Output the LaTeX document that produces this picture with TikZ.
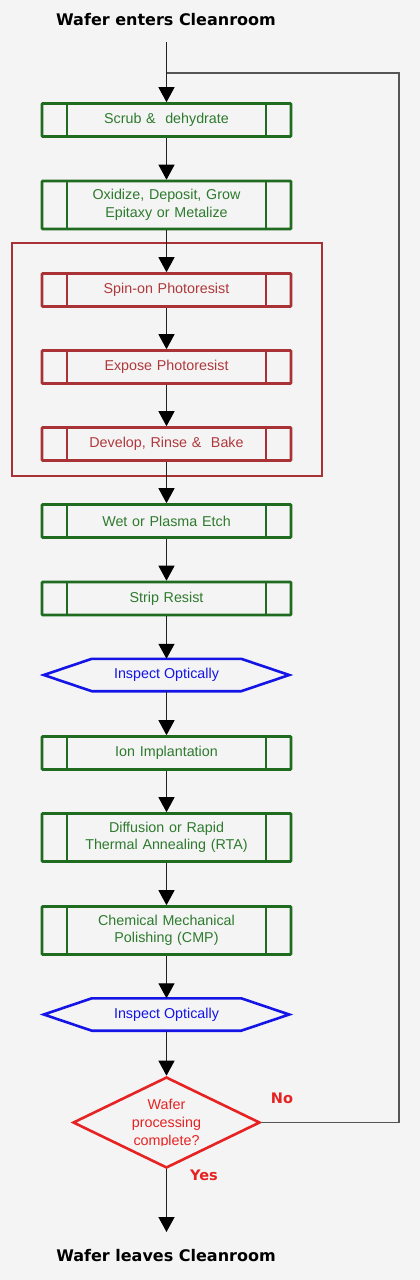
\documentclass[tikz,border=0pt]{standalone}
\usepackage{fontspec}
\setmainfont{Liberation Sans}
\newfontfamily\djv{DejaVu Sans}
\usetikzlibrary{arrows.meta,shapes.geometric}
\definecolor{bg}{HTML}{F4F4F4}
\definecolor{grn}{HTML}{1F6B1F}
\definecolor{grntxt}{HTML}{2E7A2E}
\definecolor{dred}{HTML}{A83236}
\definecolor{dredtxt}{HTML}{B0383C}
\definecolor{blu}{HTML}{1414E6}
\definecolor{bred}{HTML}{E62222}
\definecolor{conn}{HTML}{222222}
\definecolor{loopc}{HTML}{555555}
\tikzset{
  proc/.style={draw=#1, line width=2.6pt, rounded corners=0.8pt,
    minimum width=249pt, minimum height=33pt, inner sep=0pt, align=center,
    text width=195pt, font=\fontsize{14.3}{17.5}\selectfont,
    path picture={\draw[#1,line width=2.6pt]
      ([xshift=25pt]path picture bounding box.north west) -- ([xshift=25pt]path picture bounding box.south west)
      ([xshift=-25pt]path picture bounding box.north east) -- ([xshift=-25pt]path picture bounding box.south east);}},
  gbox/.style={proc=grn, text=grntxt},
  rbox/.style={proc=dred, text=dredtxt},
  tall/.style={minimum height=48pt},
  hexnode/.style={minimum width=245pt, minimum height=32pt, inner sep=0pt, text=blu,
    font=\fontsize{14.3}{17.5}\selectfont},
  hexline/.style={draw=blu, line width=2.6pt, line join=miter},
  flow/.style={draw=conn, line width=1.2pt, -{Triangle[width=16pt,length=15pt,color=black]}},
  loopline/.style={draw=loopc, line width=1.2pt},
  titletext/.style={font=\djv\bfseries\fontsize{16}{19}\selectfont, text=black},
  answer/.style={font=\djv\bfseries\fontsize{14.5}{17}\selectfont, text=bred},
  decision/.style={diamond, draw=bred, line width=2.6pt, minimum width=187pt, minimum height=91pt, inner sep=0pt},
  dtext/.style={align=center, text=bred, font=\fontsize{14.3}{18}\selectfont}
}
\begin{document}
\begin{tikzpicture}[x=1pt,y=-1pt]
\fill[bg] (0,0) rectangle (420,1280);
\useasboundingbox (0,0) rectangle (420,1280);

\node[titletext] (title) at (166,20) {Wafer enters Cleanroom};
\node[titletext] (bottom) at (166,1256) {Wafer leaves Cleanroom};

% red group frame
\draw[dred, line width=2.5pt] (12,243) rectangle (322,476);

\node[gbox] (b1) at (166.5,120) {Scrub \&\ \ dehydrate};
\node[gbox,tall] (b2) at (166.5,205) {Oxidize, Deposit, Grow\\Epitaxy or Metalize};
\node[rbox] (spin) at (166.5,290) {Spin-on Photoresist};
\node[rbox] (expo) at (166.5,367) {Expose Photoresist};
\node[rbox] (devl) at (166.5,444) {Develop, Rinse \&\ \ Bake};
\node[gbox] (wet) at (166.5,521) {Wet or Plasma Etch};
\node[gbox] (strip) at (166.5,598.5) {Strip Resist};
\node[hexnode] (h1) at (166.5,675) {Inspect Optically};
\node[gbox] (ion) at (166.5,753) {Ion Implantation};
\node[gbox,tall] (diff) at (166.5,837.5) {Diffusion or Rapid\\Thermal Annealing (RTA)};
\node[gbox,tall] (cmp) at (166.5,930.5) {Chemical Mechanical\\Polishing (CMP)};
\node[hexnode] (h2) at (166.5,1014.5) {Inspect Optically};
\node[decision] (dq) at (166.5,1122.5) {};

\foreach \h in {h1,h2}{
  \draw[hexline] (\h.west) -- ([xshift=48pt]\h.north west) -- ([xshift=-48pt]\h.north east)
    -- (\h.east) -- ([xshift=-48pt]\h.south east) -- ([xshift=48pt]\h.south west) -- cycle;
}

\begin{scope}
  \clip (0,0) rectangle (420,1145.5);
  \node[dtext] (dqt) at (166.5,1124) {Wafer\\processing\\complete?};
\end{scope}

\node[answer] (no) at (282,1098) {No};
\node[answer] (yes) at (204,1175) {Yes};

\coordinate (start) at (166.5,42);
\coordinate (join) at (166.5,73);
\coordinate (c1) at (399,1122.5);
\coordinate (c2) at (399,73);
\coordinate (endp) at (166.5,1232);

\draw[flow] (start) -- (b1.north);
\draw[flow] (b1.south) -- (b2.north);
\draw[flow] (b2.south) -- (spin.north);
\draw[flow] (spin.south) -- (expo.north);
\draw[flow] (expo.south) -- (devl.north);
\draw[flow] (devl.south) -- (wet.north);
\draw[flow] (wet.south) -- (strip.north);
\draw[flow] (strip.south) -- (h1.north);
\draw[flow] (h1.south) -- (ion.north);
\draw[flow] (ion.south) -- (diff.north);
\draw[flow] (diff.south) -- (cmp.north);
\draw[flow] (cmp.south) -- (h2.north);
\draw[flow] (h2.south) -- (dq.north);
\draw[flow] (dq.south) -- (endp);
\draw[loopline] (dq.east) -- (c1) -- (c2) -- (join);
\end{tikzpicture}
\end{document}
